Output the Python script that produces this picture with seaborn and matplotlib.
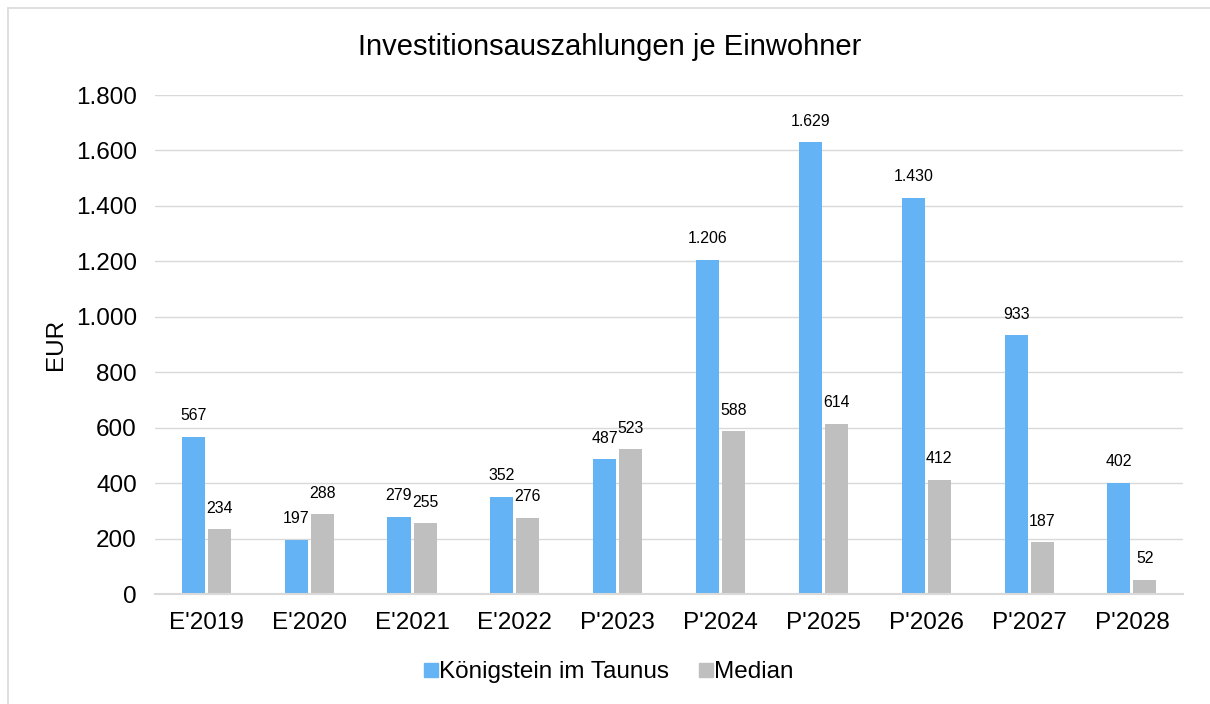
import pandas as pd
import matplotlib.pyplot as plt
import seaborn as sns
from matplotlib.lines import Line2D
from matplotlib.ticker import FuncFormatter

years = ["E'2019", "E'2020", "E'2021", "E'2022", "P'2023",
         "P'2024", "P'2025", "P'2026", "P'2027", "P'2028"]
koenigstein = [567, 197, 279, 352, 487, 1206, 1629, 1430, 933, 402]
median = [234, 288, 255, 276, 523, 588, 614, 412, 187, 52]
series_names = ['Königstein im Taunus', 'Median']
colors = ['#63B3F5', '#BFBFBF']


def de_fmt(v):
    return f'{int(v):,}'.replace(',', '.')


df = pd.DataFrame({
    'Jahr': years * 2,
    'Wert': koenigstein + median,
    'Reihe': [series_names[0]] * len(years) + [series_names[1]] * len(years),
})

sns.set_style('white')
plt.rcParams['font.family'] = ['Liberation Sans', 'DejaVu Sans']
plt.rcParams['text.color'] = '#000000'
plt.rcParams['axes.labelcolor'] = '#000000'

fig = plt.figure(figsize=(12.1, 7.04), dpi=100)
ax = fig.add_axes([0.128, 0.156, 0.85, 0.709])

sns.barplot(data=df, x='Jahr', y='Wert', hue='Reihe', palette=colors,
            saturation=1, width=0.506, gap=0.115, linewidth=0,
            ax=ax, legend=False)

for cont in ax.containers:
    for bar in cont:
        h = bar.get_height()
        ax.annotate(de_fmt(h), (bar.get_x() + bar.get_width() / 2, h),
                    xytext=(0, 21), textcoords='offset pixels',
                    ha='center', va='center', fontsize=11.4, color='#000000')

ax.set_ylim(0, 1800)
ax.set_yticks(range(0, 1801, 200))
ax.yaxis.set_major_formatter(FuncFormatter(lambda v, p: de_fmt(v)))
ax.set_xlim(-0.5, len(years) - 0.5)
ax.grid(axis='y', color='#D9D9D9', linewidth=1)
ax.set_axisbelow(True)
for s in ['top', 'right', 'left']:
    ax.spines[s].set_visible(False)
ax.spines['bottom'].set_color('#D9D9D9')
ax.spines['bottom'].set_linewidth(1.5)
ax.tick_params(axis='both', length=0, labelsize=17.5, colors='#000000')
ax.tick_params(axis='y', pad=13)
ax.tick_params(axis='x', pad=13)
ax.set_xlabel('')
ax.set_ylabel('EUR', fontsize=17.5, labelpad=6)
fig.suptitle('Investitionsauszahlungen je Einwohner', fontsize=21,
             x=0.504, y=1 - 47 / 704, va='center')

handles = [Line2D([], [], marker='s', linestyle='none', markersize=10,
                  markerfacecolor=c, markeredgecolor=c) for c in colors]
fig.legend(handles, series_names, loc='center', bbox_to_anchor=(0.503, 0.045),
           ncol=2, frameon=False, fontsize=17.5, handletextpad=0.05,
           columnspacing=1.2, handlelength=0.6)

# light outer border (left and top visible)
fig.add_artist(Line2D([8 / 1210, 8 / 1210], [0, 1 - 8 / 704],
                      transform=fig.transFigure, color='#D9D9D9', lw=1.2))
fig.add_artist(Line2D([8 / 1210, 1], [1 - 8 / 704, 1 - 8 / 704],
                      transform=fig.transFigure, color='#D9D9D9', lw=1.2))

fig.savefig('out.png', dpi=100, facecolor='white')
